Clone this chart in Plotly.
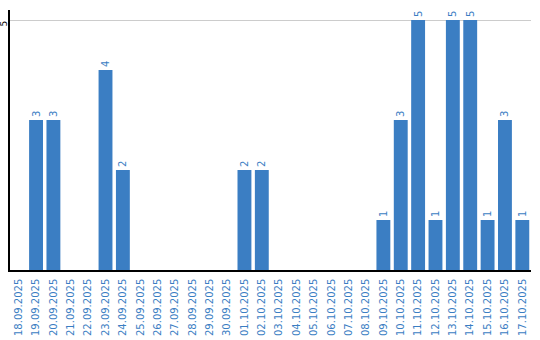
import plotly.graph_objects as go

dates = ["18.09.2025", "19.09.2025", "20.09.2025", "21.09.2025", "22.09.2025",
         "23.09.2025", "24.09.2025", "25.09.2025", "26.09.2025", "27.09.2025",
         "28.09.2025", "29.09.2025", "30.09.2025", "01.10.2025", "02.10.2025",
         "03.10.2025", "04.10.2025", "05.10.2025", "06.10.2025", "07.10.2025",
         "08.10.2025", "09.10.2025", "10.10.2025", "11.10.2025", "12.10.2025",
         "13.10.2025", "14.10.2025", "15.10.2025", "16.10.2025", "17.10.2025"]
values = [0, 3, 3, 0, 0, 4, 2, 0, 0, 0, 0, 0, 0, 2, 2,
          0, 0, 0, 0, 0, 0, 1, 3, 5, 1, 5, 5, 1, 3, 1]

blue = "#3b7ec3"
labels = [str(v) if v > 0 else "" for v in values]

fig = go.Figure(go.Bar(
    x=dates, y=values, marker_color=blue, marker_line_width=0,
    text=labels, textposition="outside", textangle=-90,
    textfont=dict(family="DejaVu Sans", size=10, color=blue),
    cliponaxis=False,
))

fig.update_layout(
    width=540, height=340,
    margin=dict(l=10, r=9, t=10, b=70),
    plot_bgcolor="white", paper_bgcolor="white",
    bargap=0.2, showlegend=False,
    font=dict(family="DejaVu Sans", size=10),
)
fig.update_xaxes(
    type="category", tickangle=-90, showgrid=False, automargin=False,
    showline=True, linecolor="black", linewidth=1.5,
    tickfont=dict(family="DejaVu Sans", size=10, color=blue),
    ticks="", ticklabelstandoff=3,
)
fig.update_yaxes(
    range=[0, 5.2], tickangle=-90, showgrid=True, gridcolor="#cccccc", automargin=False,
    showline=True, linecolor="black", linewidth=1.5, zeroline=False,
    tickfont=dict(family="DejaVu Sans", size=9, color="black"),
    ticks="", tickvals=[5], ticktext=["5"], ticklabelshift=5, ticklabelstandoff=-2,
)

fig.write_html("out.html")
